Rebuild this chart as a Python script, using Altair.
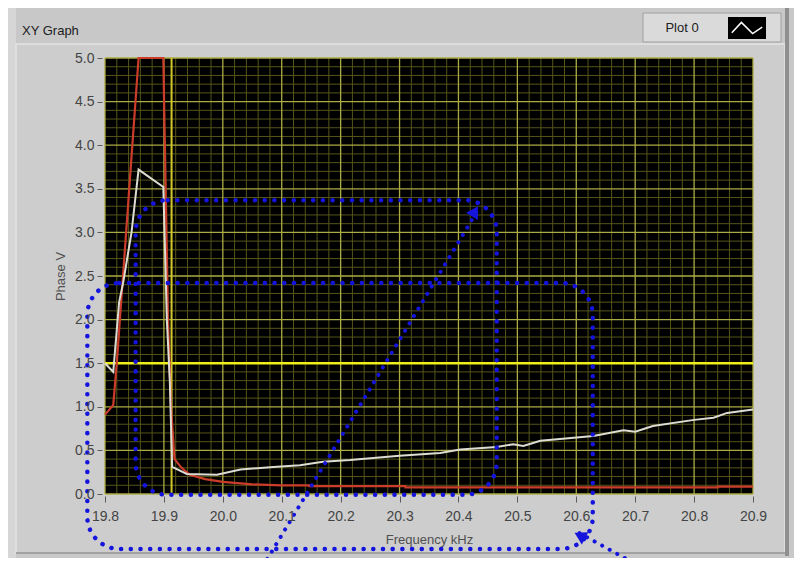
import altair as alt
import numpy as np
import pandas as pd

# ---------------- data ----------------
x_ticks = [19.8, 19.9, 20.0, 20.1, 20.2, 20.3, 20.4, 20.5, 20.6, 20.7, 20.8, 20.9]
y_ticks = [0.0, 0.5, 1.0, 1.5, 2.0, 2.5, 3.0, 3.5, 4.0, 4.5, 5.0]

white_x = [19.800, 19.814, 19.824, 19.831, 19.845, 19.857, 19.899, 19.905, 19.910, 19.914,
           19.939, 19.990, 20.030, 20.086, 20.131, 20.170, 20.216, 20.300, 20.369, 20.403,
           20.465, 20.493, 20.510, 20.539, 20.629, 20.680, 20.700, 20.730, 20.800, 20.833,
           20.856, 20.900]
white_y = [1.50, 1.40, 2.20, 2.43, 3.00, 3.72, 3.52, 2.00, 1.30, 0.31,
           0.23, 0.22, 0.28, 0.31, 0.33, 0.37, 0.39, 0.44, 0.47, 0.51,
           0.54, 0.57, 0.55, 0.61, 0.665, 0.73, 0.715, 0.78, 0.85, 0.875,
           0.93, 0.97]

red_x = [19.800, 19.814, 19.820, 19.857, 19.899, 19.907, 19.912, 19.918, 19.930, 19.944,
         19.970, 20.000, 20.050, 20.100, 20.147, 20.147, 20.310, 20.310, 20.840, 20.840, 20.900]
red_y = [0.91, 1.02, 1.50, 5.00, 5.00, 2.00, 1.00, 0.40, 0.30, 0.22,
         0.17, 0.14, 0.11, 0.10, 0.10, 0.09, 0.09, 0.075, 0.075, 0.085, 0.085]

cursor_x = [19.913]
cursor_y = [1.5]

# annotation overlays (blue dotted rounded boxes and arrows), data units
box_x1 = [19.852, 19.770]
box_x2 = [20.465, 20.628]
box_y1 = [3.37, 2.42]
box_y2 = [-0.01, -0.63]

arrow_x1 = [20.068, 20.708]
arrow_y1 = [-0.83, -0.83]
arrow_x2 = [20.433, 20.603]
arrow_y2 = [3.257, -0.44]
head_x = [20.428, 20.606]
head_y = [3.242, -0.476]
head_angle = [31, 298]

# grid positions
x_minor = [round(v, 2) for v in np.arange(19.80, 20.9001, 0.02)]
y_minor = [round(v, 2) for v in np.arange(0.0, 5.0001, 0.1)]

# ---------------- style ----------------
FONT = "Liberation Sans"
BLUE = "#1414dc"
OX, OY = 105, 58  # plot origin on the page (for chrome only)

def px(v):
    return v - OX

def py(v):
    return v - OY

XS = alt.Scale(domain=[19.8, 20.9], nice=False, zero=False)
YS = alt.Scale(domain=[0, 5], nice=False, zero=False)

xaxis = alt.Axis(values=x_ticks, format=".1f", title="Frequency kHz", grid=False, domain=False,
                 tickColor="#5a5a5a", tickSize=6, offset=2, labelPadding=7, labelFontSize=14,
                 labelColor="#444444", labelFont=FONT, labelFlush=False, labelOverlap=False,
                 titleFont=FONT, titleFontSize=13, titleFontWeight="normal",
                 titleColor="#505050", titlePadding=10, zindex=1)
yaxis = alt.Axis(values=y_ticks, format=".1f", title="Phase V", grid=False, domain=False,
                 tickColor="#5a5a5a", tickSize=5, offset=3, labelPadding=3, labelFontSize=14,
                 labelColor="#444444", labelFont=FONT, labelFlush=False, labelOverlap=False,
                 titleFont=FONT, titleFontSize=13, titleFontWeight="normal",
                 titleColor="#505050", titlePadding=7, zindex=1)

X = alt.X("x:Q", scale=XS, axis=xaxis)
Y = alt.Y("y:Q", scale=YS, axis=yaxis)

dummy = pd.DataFrame({"k": [0]})

def prect(x1, y1, x2, y2, **kw):
    return alt.Chart(dummy).mark_rect(**kw).encode(
        x=alt.value(px(x1)), x2=alt.value(px(x2)), y=alt.value(py(y1)), y2=alt.value(py(y2)))

def ptext(text, x, y, **kw):
    return alt.Chart(dummy).mark_text(text=text, font=FONT, **kw).encode(
        x=alt.value(px(x)), y=alt.value(py(y)))

# ---------------- chrome ----------------
panel = prect(16, 44, 785, 553, fill="#cdcdcd", stroke="#e4e4e4", strokeWidth=1.5)
left_band = prect(8, 8, 16, 558, fill="#d6d6d6")
right_edge = prect(785, 8, 789, 556, fill="#8f8f8f")
bottom_edge = prect(16, 552, 785, 554, fill="#a2a2a2")
title = ptext("XY Graph", 22, 31, align="left", baseline="middle", fontSize=13, color="#202020")

legend_box = prect(643, 13, 781, 42, fill="#dadada", stroke="#a0a0a0", strokeWidth=1)
legend_text = ptext("Plot 0", 682, 28, align="center", baseline="middle", fontSize=13, color="#202020")
legend_icon = prect(728, 17, 766, 39, fill="#000000")
legend_line = alt.Chart(dummy).mark_point(
    shape="M -0.95 0.3 L -0.35 -0.35 L 0.35 0.35 L 0.95 -0.05",
    filled=False, stroke="#ffffff", strokeWidth=1.5, size=1024, opacity=1,
).encode(x=alt.value(px(747)), y=alt.value(py(28)))

plot_bg = alt.Chart(dummy).mark_rect(fill="#000000").encode(
    x=alt.value(0), x2=alt.value("width"), y=alt.value(0), y2=alt.value("height"))

# ---------------- grid ----------------
xminor_df = pd.DataFrame({"x": [v for v in x_minor if v not in x_ticks]})
yminor_df = pd.DataFrame({"y": [v for v in y_minor if v not in y_ticks]})
xmajor_df = pd.DataFrame({"x": x_ticks})
ymajor_df = pd.DataFrame({"y": y_ticks})

g1 = alt.Chart(xminor_df).mark_rule(color="#55551a", strokeWidth=1).encode(x=X)
g2 = alt.Chart(yminor_df).mark_rule(color="#55551a", strokeWidth=1).encode(y=Y)
g3 = alt.Chart(xmajor_df).mark_rule(color="#acac44", strokeWidth=1.3).encode(x=X)
g4 = alt.Chart(ymajor_df).mark_rule(color="#acac44", strokeWidth=1.3).encode(y=Y)

hcur = alt.Chart(pd.DataFrame({"y": cursor_y})).mark_rule(color="#eeee1a", strokeWidth=2.5).encode(y=Y)
vcur = alt.Chart(pd.DataFrame({"x": cursor_x})).mark_rule(color="#d2c82c", strokeWidth=2).encode(x=X)

# ---------------- data lines ----------------
red_df = pd.DataFrame({"x": red_x, "y": red_y, "i": range(len(red_x))})
white_df = pd.DataFrame({"x": white_x, "y": white_y, "i": range(len(white_x))})

red_line = alt.Chart(red_df).mark_line(color="#cc3c2a", strokeWidth=2.2).encode(
    x=X, y=Y, order="i:Q")
white_line = alt.Chart(white_df).mark_line(color="#dcdcd2", strokeWidth=2).encode(
    x=X, y=Y, order="i:Q")

# ---------------- annotations ----------------
box_df = pd.DataFrame({"x": box_x1, "x2": box_x2, "y": box_y1, "y2": box_y2})
boxes = alt.Chart(box_df).mark_rect(
    filled=False, color=BLUE, strokeWidth=4.5, strokeDash=[0.1, 9.6], strokeCap="round",
    cornerRadius=32,
).encode(x=X, x2="x2:Q", y=Y, y2="y2:Q")

arrow_df = pd.DataFrame({"x": arrow_x1, "y": arrow_y1, "x2": arrow_x2, "y2": arrow_y2})
arrows = alt.Chart(arrow_df).mark_rule(
    color=BLUE, strokeWidth=4, strokeDash=[0.1, 8.5], strokeCap="round",
).encode(x=X, x2="x2:Q", y=Y, y2="y2:Q")

head_df = pd.DataFrame({"x": head_x, "y": head_y, "a": head_angle})
heads = alt.Chart(head_df).mark_point(
    shape="triangle-up", filled=True, color=BLUE, size=190, opacity=1,
).encode(x=X, y=Y, angle=alt.Angle("a:Q", scale=None))

chart = alt.layer(
    left_band, panel, right_edge, bottom_edge, title,
    legend_box, legend_text, legend_icon, legend_line,
    plot_bg, g1, g2, g3, g4, hcur, vcur,
    red_line, white_line,
    boxes, arrows, heads,
).properties(
    width=648, height=436,
    padding={"left": 97, "top": 50, "right": 41, "bottom": 64},
    autosize=alt.AutoSizeParams(type="none"),
).configure(background="#c8c8c8").configure_view(strokeWidth=0)

chart.save("out.html", embed_options={"renderer": "svg", "actions": False})
